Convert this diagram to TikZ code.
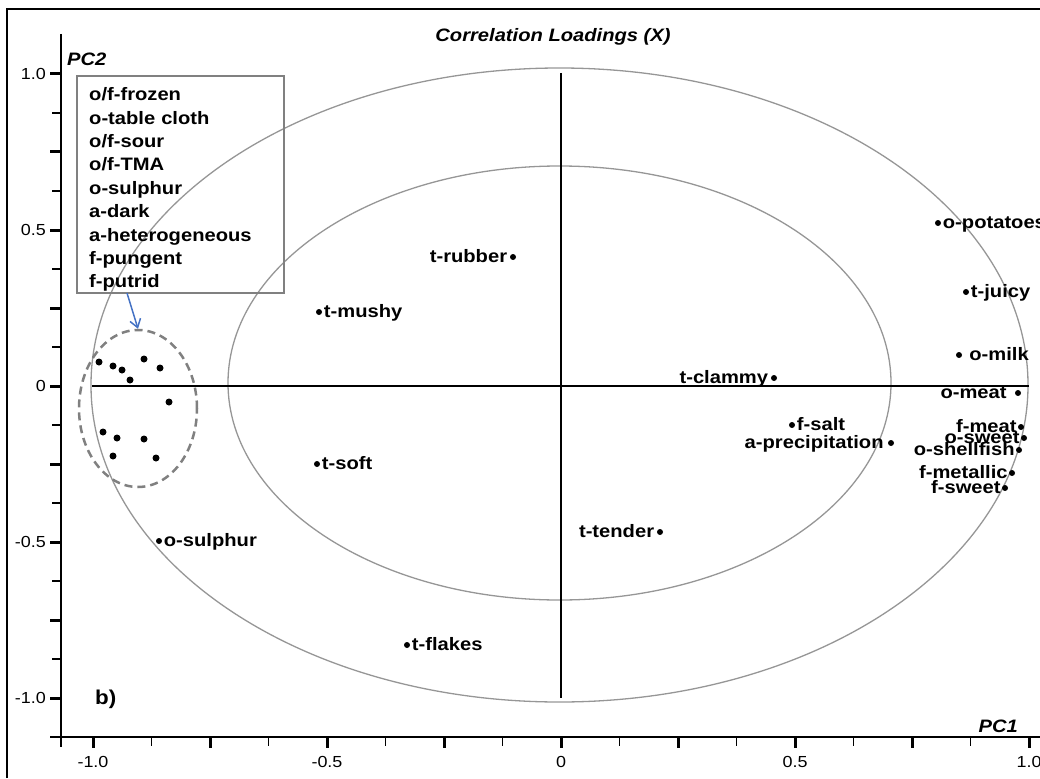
\documentclass[tikz,border=0pt]{standalone}
\usepackage{fontspec}
\setmainfont{Liberation Sans}[FakeStretch=1.12]
\usetikzlibrary{shapes.geometric,arrows.meta}
\definecolor{ellgray}{RGB}{150,150,150}
\definecolor{boxgray}{RGB}{128,128,128}
\definecolor{arrowblue}{RGB}{68,114,196}
\newcommand\ptright[5]{% name, x, y, gap, text
  \node[dot] (#1) at (#2,#3) {};
  \node[lbl, anchor=base west] (#1-t) at ([xshift=#4pt,yshift=-5pt]#1.east) {#5};}
\newcommand\ptleft[5]{%
  \node[dot] (#1) at (#2,#3) {};
  \node[lbl, anchor=base east] (#1-t) at ([xshift=-#4pt,yshift=-5pt]#1.west) {#5};}
\begin{document}
\begin{tikzpicture}[x=1pt,y=-1pt,
  dot/.style={circle, fill=black, inner sep=0pt, minimum size=6pt},
  cdot/.style={circle, fill=black, inner sep=0pt, minimum size=7pt},
  lbl/.style={font=\fontsize{18}{22}\selectfont\bfseries, inner sep=0pt},
  ticklbl/.style={font=\fontsize{16}{19}\selectfont, inner sep=0pt},
  ring/.style={draw=ellgray, line width=1.3pt},
  zeroline/.style={line width=2pt},
  axisline/.style={line width=2.5pt},
  majtick/.style={line width=3pt},
  mintick/.style={line width=1.8pt}]
\useasboundingbox (0,0) rectangle (1040,778);
% outer frame
\draw[axisline] (7,778) -- (7,9) -- (1040,9);
% title
\node[font=\fontsize{18}{22}\selectfont\bfseries\itshape, anchor=base, inner sep=0pt] (title) at (553,42) {Correlation Loadings (X)};
% axes
\draw[axisline] (61,34) -- (61,747);
\draw[axisline] (50,737) -- (1040,737);
\foreach \i in {-4,...,4} \draw[majtick] ({561+117*\i},737) -- ({561+117*\i},748);
\foreach \i in {-4,...,3} \draw[mintick] ({561+117*\i+58.5},737) -- ({561+117*\i+58.5},746);
\foreach \j in {-4,...,4} \draw[majtick] (50,{386-78*\j}) -- (61,{386-78*\j});
\foreach \j in {-4,...,3} \draw[mintick] (52,{386-78*\j-39}) -- (61,{386-78*\j-39});
\foreach \v/\t in {-2/-1.0,-1/-0.5,0/0,1/0.5,2/1.0} {
  \node[ticklbl, anchor=base] at ({561+234*\v},767) {\t};
  \node[ticklbl, anchor=base east] at (46,{386-156*\v+5.5}) {\t};
}
\node[lbl, font=\fontsize{18}{22}\selectfont\bfseries\itshape, anchor=base west] (pc2) at (67,66) {PC2};
\node[lbl, font=\fontsize{18}{22}\selectfont\bfseries\itshape, anchor=base east] (pc1) at (1018,732) {PC1};
\node[lbl, font=\fontsize{20}{24}\selectfont\bfseries, anchor=base west] (panel) at (95,704) {b)};
% correlation ellipses
\draw[ring] (559.5,385) ellipse [x radius=468.5, y radius=317];
\draw[ring] (559.5,383) ellipse [x radius=331.5, y radius=217];
% zero lines
\draw[zeroline] (92,386) -- (1029,386);
\draw[zeroline] (561,73) -- (561,698);
% legend
\node[draw=boxgray, line width=2pt, minimum width=207pt, minimum height=217pt, inner sep=0pt, outer sep=0pt, anchor=north west] (legend) at (77,76) {};
\node[anchor=north west, inner sep=0pt, text width=190pt, align=left, font=\fontsize{18}{23.4}\selectfont\bfseries] (legendtext) at (89,87.5)
  {o/f-frozen\\o-table cloth\\o/f-sour\\o/f-TMA\\o-sulphur\\a-dark\\a-heterogeneous\\f-pungent\\f-putrid};
% cluster
\node[ellipse, draw=boxgray, dash pattern=on 8pt off 5pt, line width=2.5pt, minimum width=118pt, minimum height=157pt, inner sep=0pt] (cluster) at (138,408.5) {};
\foreach \x/\y [count=\k] in {99/362,113/366,122/370,130/380,144/359,160/368,169/402,103/432,117/438,144/439,113/456,156/458}
  \node[cdot] (c\k) at (\x,\y) {};
\draw[arrowblue, line width=1.5pt, -{Straight Barb[length=8pt,width=11pt]}] ([xshift=-53.5pt]legend.south) -- (cluster.north);
% labelled points
\ptright{potatoes}{938}{223}{1.5}{o-potatoes}
\ptright{juicy}{966}{292}{1.5}{t-juicy}
\ptright{milk}{959}{355}{7}{o-milk}
\ptright{salt}{792}{425}{1.5}{f-salt}
\ptright{mushy}{319}{312}{1.5}{t-mushy}
\ptright{soft}{317}{464}{1.5}{t-soft}
\ptright{sulphur}{159}{541}{1.5}{o-sulphur}
\ptright{flakes}{407}{645}{1.5}{t-flakes}
\ptleft{rubber}{513}{257}{2.5}{t-rubber}
\ptleft{clammy}{774}{378}{2.5}{t-clammy}
\ptleft{ometa}{1018}{393}{8}{o-meat}
\ptleft{precip}{891}{443}{4}{a-precipitation}
\ptleft{fmeat}{1021}{427}{1}{f-meat}
\ptleft{osweet}{1024}{438}{1}{o-sweet}
\ptleft{shellfish}{1019}{450}{1}{o-shellfish}
\ptleft{metallic}{1012}{473}{1}{f-metallic}
\ptleft{fsweet}{1005}{488}{1}{f-sweet}
\ptleft{tender}{660}{532}{2.5}{t-tender}
\end{tikzpicture}
\end{document}
